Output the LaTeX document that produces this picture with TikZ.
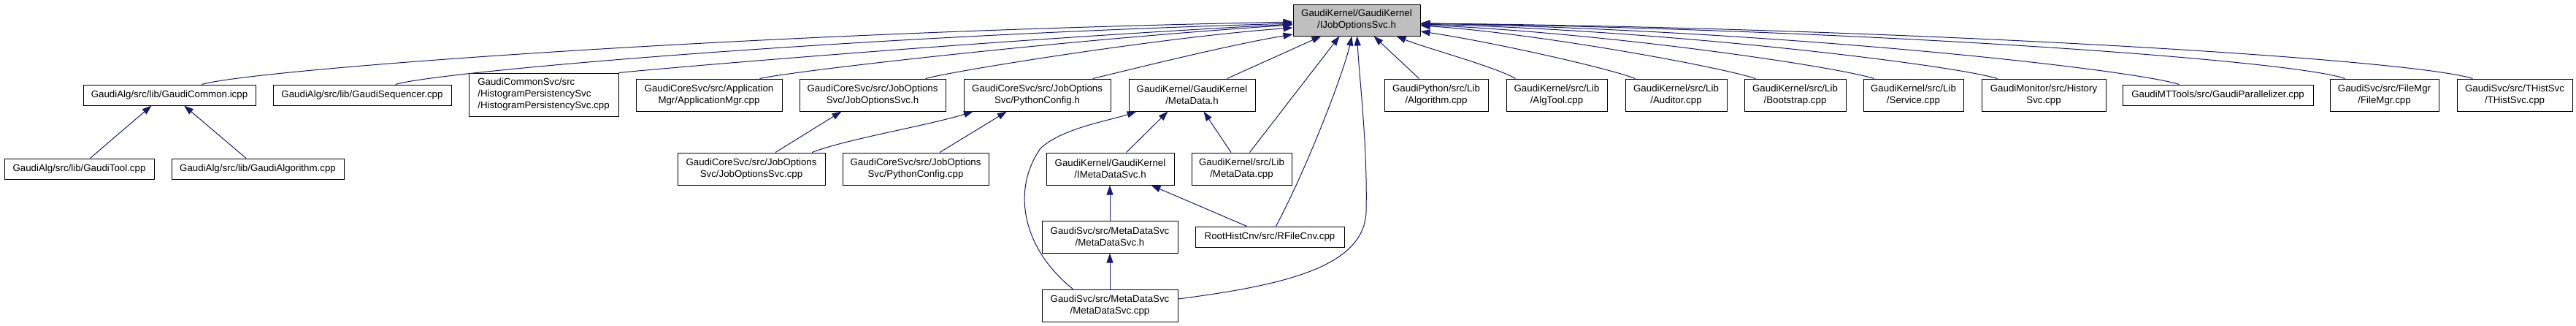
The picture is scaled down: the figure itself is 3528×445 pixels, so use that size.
\documentclass[tikz,border=0pt]{standalone}
\usepackage{fontspec}
\setmainfont{Liberation Sans}
\usetikzlibrary{arrows.meta}
\definecolor{edgeblue}{HTML}{191970}
\definecolor{maingrey}{HTML}{BFBFBF}
\begin{document}
\begin{tikzpicture}[x=1pt,y=-1pt,
  box/.style={draw=black,line width=1pt,inner sep=0pt,align=center,font={\fontsize{13.3}{16}\selectfont}},
  edge/.style={draw=edgeblue,line width=1pt,-{Triangle[length=13pt,width=9pt]}}]
\useasboundingbox (0,0) rectangle (3528,445);
% row 0
\node[box,fill=maingrey,minimum width=174pt,minimum height=43pt] (main) at (1858,27.5) {GaudiKernel/GaudiKernel\\/IJobOptionsSvc.h};
% row 1
\node[box,minimum width=236pt,minimum height=28pt] (GC) at (232,130) {GaudiAlg/src/lib/GaudiCommon.icpp};
\node[box,minimum width=244pt,minimum height=28pt] (GS) at (496,130) {GaudiAlg/src/lib/GaudiSequencer.cpp};
\node[box,align=left,minimum width=205pt,minimum height=59pt] (HP) at (744.5,129.5) {GaudiCommonSvc/src\\/HistogramPersistencySvc\\/HistogramPersistencySvc.cpp};
\node[box,minimum width=200pt,minimum height=44pt] (AM) at (971,130) {GaudiCoreSvc/src/Application\\Mgr/ApplicationMgr.cpp};
\node[box,minimum width=200pt,minimum height=44pt] (JOh) at (1195,130) {GaudiCoreSvc/src/JobOptions\\Svc/JobOptionsSvc.h};
\node[box,minimum width=201pt,minimum height=44pt] (PCh) at (1420.5,130) {GaudiCoreSvc/src/JobOptions\\Svc/PythonConfig.h};
\node[box,minimum width=173pt,minimum height=44pt] (MDh) at (1632.5,130) {GaudiKernel/GaudiKernel\\/MetaData.h};
\node[box,minimum width=142pt,minimum height=44pt] (GPA) at (1967,130) {GaudiPython/src/Lib\\/Algorithm.cpp};
\node[box,minimum width=138pt,minimum height=44pt] (AT) at (2132,130) {GaudiKernel/src/Lib\\/AlgTool.cpp};
\node[box,minimum width=139pt,minimum height=44pt] (AU) at (2295.5,130) {GaudiKernel/src/Lib\\/Auditor.cpp};
\node[box,minimum width=139pt,minimum height=44pt] (BS) at (2458.5,130) {GaudiKernel/src/Lib\\/Bootstrap.cpp};
\node[box,minimum width=137pt,minimum height=44pt] (SV) at (2620.5,130) {GaudiKernel/src/Lib\\/Service.cpp};
\node[box,minimum width=170pt,minimum height=44pt] (HS) at (2799,130) {GaudiMonitor/src/History\\Svc.cpp};
\node[box,minimum width=261pt,minimum height=28pt] (GPz) at (3037.5,130) {GaudiMTTools/src/GaudiParallelizer.cpp};
\node[box,minimum width=149pt,minimum height=44pt] (FM) at (3265.5,130) {GaudiSvc/src/FileMgr\\/FileMgr.cpp};
\node[box,minimum width=158pt,minimum height=44pt] (TH) at (3444,130) {GaudiSvc/src/THistSvc\\/THistSvc.cpp};
% row 2
\node[box,minimum width=205pt,minimum height=28pt] (GT) at (108.5,231) {GaudiAlg/src/lib/GaudiTool.cpp};
\node[box,minimum width=236pt,minimum height=28pt] (GA) at (353,231) {GaudiAlg/src/lib/GaudiAlgorithm.cpp};
\node[box,minimum width=202pt,minimum height=44pt] (JOc) at (1029,231) {GaudiCoreSvc/src/JobOptions\\Svc/JobOptionsSvc.cpp};
\node[box,minimum width=200pt,minimum height=44pt] (PCc) at (1254,231) {GaudiCoreSvc/src/JobOptions\\Svc/PythonConfig.cpp};
\node[box,minimum width=175pt,minimum height=44pt] (IMD) at (1520.5,231) {GaudiKernel/GaudiKernel\\/IMetaDataSvc.h};
\node[box,minimum width=137pt,minimum height=44pt] (MDc) at (1700.5,231) {GaudiKernel/src/Lib\\/MetaData.cpp};
% row 3
\node[box,minimum width=186pt,minimum height=44pt] (MDSh) at (1520,324) {GaudiSvc/src/MetaDataSvc\\/MetaDataSvc.h};
\node[box,minimum width=204pt,minimum height=28pt] (RF) at (1739,324) {RootHistCnv/src/RFileCnv.cpp};
% row 4
\node[box,minimum width=186pt,minimum height=44pt] (MDSc) at (1520,418) {GaudiSvc/src/MetaDataSvc\\/MetaDataSvc.cpp};
% edges to main, left side
\draw[edge] ([xshift=163pt]GC.north west) .. controls (340,96) and (1000,45) .. ([yshift=-2.5pt]main.west);
\draw[edge] ([xshift=168pt]GS.north west) .. controls (600,98) and (1150,50) .. ([yshift=-4.5pt]main.west);
\draw[edge] (HP.north east) .. controls (900,94) and (1350,55) .. ([yshift=-5.5pt]main.west);
\draw[edge] ([xshift=170pt]AM.north west) .. controls (1080,98) and (1450,55) .. ([yshift=-6.5pt]main.west);
\draw[edge] ([xshift=173pt]JOh.north west) .. controls (1310,96) and (1600,50) .. ([yshift=-10.5pt]main.west);
\draw[edge] ([xshift=177pt]PCh.north west) .. controls (1545,96) and (1680,62) .. ([yshift=-19.5pt]main.west);
% edges to main, bottom
\draw[edge] ([xshift=135pt]MDh.north west) -- ([xshift=39pt]main.south west);
\draw[edge] ([xshift=80pt]MDc.north west) -- ([xshift=64pt]main.south west);
\draw[edge] ([xshift=111pt]RF.north west) .. controls (1790,230) and (1840,100) .. ([xshift=81pt]main.south west);
\draw[edge] ([yshift=9pt]MDSc.east) .. controls (1760,390) and (1868,365) .. (1871,290) .. controls (1873,200) and (1862,110) .. ([xshift=88pt]main.south west);
\draw[edge] ([xshift=48pt]GPA.north west) -- ([xshift=111pt]main.south west);
\draw[edge] ([xshift=13pt]AT.north west) .. controls (2050,92) and (1950,65) .. ([xshift=142pt]main.south west);
% edges to main, right side
\draw[edge] ([xshift=14pt]AU.north west) .. controls (2200,92) and (2030,55) .. ([yshift=-15.5pt]main.east);
\draw[edge] ([xshift=16pt]BS.north west) .. controls (2350,90) and (2100,45) .. ([yshift=-7.5pt]main.east);
\draw[edge] ([xshift=15pt]SV.north west) .. controls (2510,90) and (2200,45) .. ([yshift=-6.5pt]main.east);
\draw[edge] ([xshift=22pt]HS.north west) .. controls (2680,90) and (2300,42) .. ([yshift=-5.5pt]main.east);
\draw[edge] ([xshift=78pt]GPz.north west) .. controls (2920,95) and (2450,42) .. ([yshift=-4.5pt]main.east);
\draw[edge] ([xshift=21pt]FM.north west) .. controls (3140,82) and (2550,40) .. ([yshift=-4.5pt]main.east);
\draw[edge] ([xshift=22pt]TH.north west) .. controls (3300,80) and (2600,38) .. ([yshift=-4.5pt]main.east);
% other edges
\draw[edge] ([xshift=118pt]GT.north west) -- ([xshift=94pt]GC.south west);
\draw[edge] ([xshift=102.5pt]GA.north west) -- ([xshift=138.6pt]GC.south west);
\draw[edge] ([xshift=134.5pt]JOc.north west) -- ([xshift=58pt]JOh.south west);
\draw[edge] ([xshift=184.5pt]JOc.north west) .. controls (1160,190) and (1270,172) .. ([xshift=13.5pt]PCh.south west);
\draw[edge] ([xshift=133.5pt]PCc.north west) -- ([xshift=59.4pt]PCh.south west);
\draw[edge] ([xshift=43pt]MDSc.north west) .. controls (1400,340) and (1385,260) .. (1425,203) .. controls (1455,175) and (1520,165) .. ([xshift=11pt]MDh.south west);
\draw[edge] ([xshift=110pt]IMD.north west) -- ([xshift=54pt]MDh.south west);
\draw[edge] ([xshift=54.5pt]MDc.north west) -- ([xshift=103pt]MDh.south west);
\draw[edge] (MDSh.north) -- (MDSh.north |- IMD.south);
\draw[edge] ([xshift=71pt]RF.north west) -- ([xshift=144pt]IMD.south west);
\draw[edge] (MDSc.north) -- (MDSh.south);
\end{tikzpicture}
\end{document}
